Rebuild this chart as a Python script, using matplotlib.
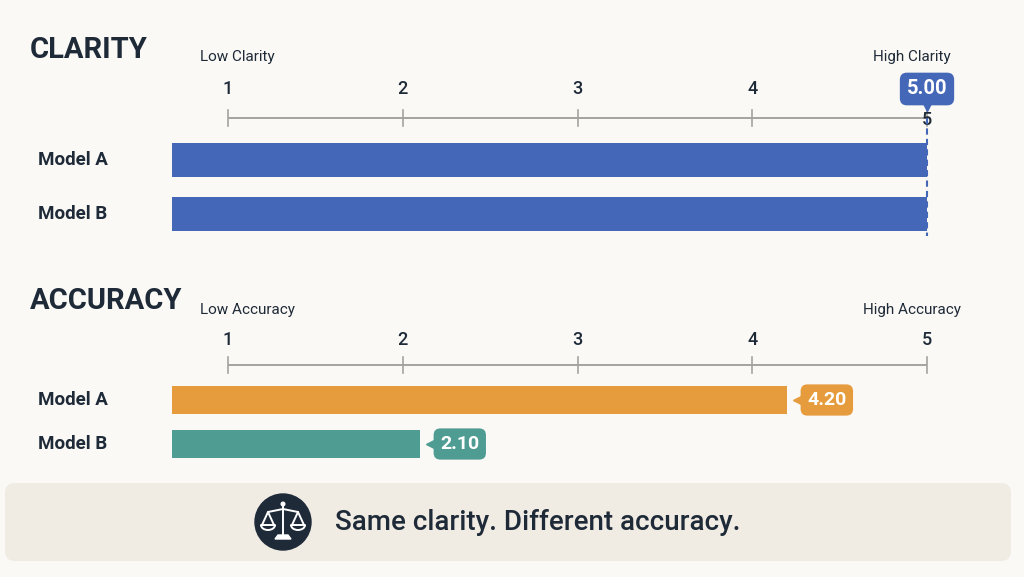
"""Clarity vs accuracy comparison card."""

import matplotlib.pyplot as plt
from matplotlib.patches import Arc, Circle, FancyBboxPatch, Polygon

plt.rcParams["font.family"] = ["Roboto", "DejaVu Sans"]

# --- data -------------------------------------------------------------------
MODELS = ["Model A", "Model B"]
TICKS = [1, 2, 3, 4, 5]
CLARITY = [5.00, 5.00]
ACCURACY = [4.20, 2.10]
CLARITY_COLOURS = ["#4467b8", "#4467b8"]
ACCURACY_COLOURS = ["#e69b3c", "#4f9c92"]
TAKEAWAY = "Same clarity. Different accuracy."

# --- style ------------------------------------------------------------------
BG = "#fbf9f5"
BANNER = "#f0ebe3"
INK = "#1e2a38"
AXIS_GREY = "#a3a3a0"

W, H = 1024, 577
PX_ONE, PX_FIVE = 228, 927  # pixel columns of scale 1 and scale 5
PX_PER_UNIT = (PX_FIVE - PX_ONE) / (TICKS[-1] - TICKS[0])


def val_x(px: float) -> float:
    """Scale value that sits at a given pixel column."""
    return TICKS[0] + (px - PX_ONE) / PX_PER_UNIT


BAR_START = val_x(172)
BADGE = dict(boxstyle="round,pad=0.34,rounding_size=0.35", ec="none")


def draw_panel(ax, title, low, high, values, colours, lay):
    ax.text(val_x(30), lay["title_y"], title, fontsize=21, fontweight="bold",
            color=INK, ha="left", va="center")
    ax.text(val_x(200), lay["caption_y"], low, fontsize=11, color=INK,
            ha="left", va="center")
    ax.text(val_x(912), lay["caption_y"], high, fontsize=11, color=INK,
            ha="center", va="center")

    axis_y = lay["axis_y"]
    ax.plot([TICKS[0], TICKS[-1]], [axis_y, axis_y], color=AXIS_GREY, lw=1.4,
            solid_capstyle="butt", zorder=2)
    shared = len(set(values)) == 1
    for t in TICKS:
        ax.plot([t, t], [axis_y - 8, axis_y + 8], color=AXIS_GREY, lw=1.2, zorder=2)
        ty = lay["tick_y"]
        if shared and t == values[0]:
            ty = axis_y + 2  # the value badge takes the label's place
        ax.text(t, ty, str(t), fontsize=13, fontweight="medium", color=INK,
                ha="center", va="center", zorder=3)

    for name, y, v, c in zip(MODELS, lay["bar_y"], values, colours):
        ax.text(val_x(38), y, name, fontsize=13.5, fontweight="bold", color=INK,
                ha="left", va="center")
        ax.barh(y, v - BAR_START, left=BAR_START, height=lay["bar_h"], color=c,
                edgecolor="none", zorder=2)
        if not shared:
            ax.plot(v + 10 / PX_PER_UNIT, y, marker="<", ms=6, color=c, zorder=3)
            ax.text(v + 20 / PX_PER_UNIT, y, f"{v:.2f}", fontsize=14,
                    fontweight="bold", color="white", ha="left", va="center",
                    bbox=dict(BADGE, fc=c), zorder=4)

    if shared:
        v, c = values[0], colours[0]
        bottom = lay["bar_y"][-1] + lay["bar_h"] / 2 + 5
        ax.plot([v, v], [axis_y, bottom], color=c, lw=1.5, ls=(0, (3, 2)), zorder=3)
        ax.plot(v, lay["tick_y"] + 16, marker="v", ms=8, color=c, zorder=3)
        ax.text(v, lay["tick_y"], f"{v:.2f}", fontsize=14.5, fontweight="bold",
                color="white", ha="center", va="center",
                bbox=dict(BADGE, fc=c), zorder=4)


def draw_scales_icon(ax, cx, cy):
    ax.add_patch(Circle((cx, cy), 28, color=INK, zorder=2))
    kw = dict(color="white", lw=1.4, zorder=3, solid_capstyle="round")
    ax.plot([cx, cx], [cy - 16, cy + 14], **kw)
    ax.add_patch(Circle((cx, cy - 18), 1.8, color="white", zorder=3))
    ax.plot([cx - 15, cx, cx + 15], [cy - 10, cy - 13, cy - 10], **kw)
    for side in (-1, 1):
        px = cx + 15 * side
        ax.plot([px - 6, px, px + 6], [cy + 3, cy - 10, cy + 3], **kw)
        ax.add_patch(Arc((px, cy + 3), 14, 10, theta1=0, theta2=180,
                         color="white", lw=1.4, zorder=3))
        ax.plot([px - 7, px + 7], [cy + 3, cy + 3], **kw)
    ax.add_patch(Polygon([(cx - 5, cy + 13), (cx + 5, cy + 13), (cx + 8, cy + 17),
                          (cx - 8, cy + 17)], closed=True, color="white", zorder=3))


fig = plt.figure(figsize=(W / 100, H / 100), dpi=100, facecolor=BG)

# pixel canvas for the banner and icon
bg = fig.add_axes([0, 0, 1, 1])
bg.set_xlim(0, W)
bg.set_ylim(H, 0)
bg.axis("off")
bg.add_patch(FancyBboxPatch((5, 483), 1006, 78,
                            boxstyle="round,pad=0,rounding_size=10",
                            fc=BANNER, ec="none", zorder=1))
draw_scales_icon(bg, 283, 522)
bg.text(335, 523, TAKEAWAY, fontsize=20, fontweight="medium", color=INK,
        ha="left", va="center", zorder=3)

# chart layer: x in scale units, y in pixel rows
ax = fig.add_axes([0, 0, 1, 1], facecolor="none")
ax.set_xlim(val_x(0), val_x(W))
ax.set_ylim(H, 0)
ax.axis("off")

draw_panel(ax, "CLARITY", "Low Clarity", "High Clarity", CLARITY, CLARITY_COLOURS,
           dict(title_y=50, caption_y=57, tick_y=89, axis_y=118,
                bar_y=[160, 214], bar_h=34))
draw_panel(ax, "ACCURACY", "Low Accuracy", "High Accuracy", ACCURACY,
           ACCURACY_COLOURS,
           dict(title_y=301, caption_y=310, tick_y=340, axis_y=365,
                bar_y=[400, 444], bar_h=28))

fig.savefig("out.png", dpi=100, facecolor=BG)
